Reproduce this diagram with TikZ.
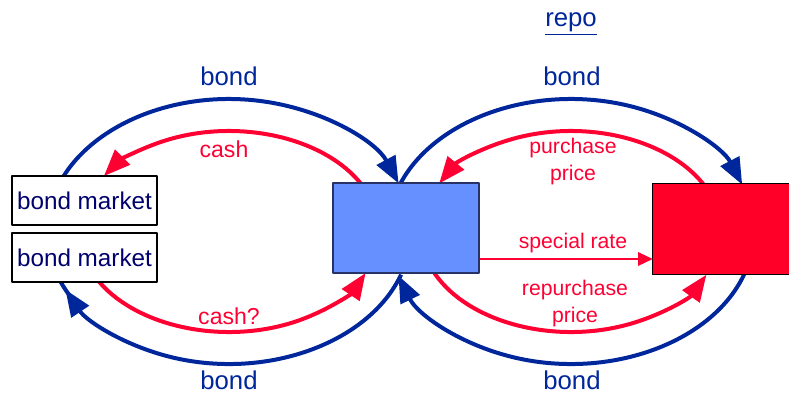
\documentclass[tikz,border=0pt]{standalone}
\usepackage{fontspec}
\setmainfont{Liberation Sans}
\usetikzlibrary{arrows.meta}

\definecolor{bondblue}{RGB}{0,38,155}
\definecolor{cashred}{RGB}{255,0,51}
\definecolor{dealerfill}{RGB}{102,143,255}
\definecolor{dealerline}{RGB}{40,50,100}
\definecolor{lenderfill}{RGB}{255,0,41}
\definecolor{marketnavy}{RGB}{0,0,110}

\tikzset{
  bondflow/.style={draw=bondblue, line width=3pt, -{Triangle[length=20pt,width=15.5pt]}},
  cashflow/.style={draw=cashred, line width=3pt, -{Triangle[length=20pt,width=15.5pt]}},
  rateflow/.style={draw=cashred, line width=1.7pt, -{Triangle[length=11pt,width=10pt]}},
  market/.style={draw=black, fill=white, line width=0.8pt, inner sep=0pt,
    minimum width=108.75pt, minimum height=36.75pt, text=marketnavy,
    font=\fontsize{18.2}{20}\selectfont},
  bondlabel/.style={text=bondblue, font=\fontsize{19.3}{22}\selectfont},
  cashlabel/.style={text=cashred, font=\fontsize{17.3}{20}\selectfont},
  pricelabel/.style={text=cashred, align=center, inner sep=0pt,
    font=\fontsize{15.9}{20.25}\selectfont}
}

\begin{document}
\begin{tikzpicture}[x=0.75pt, y=-0.75pt, line cap=butt, line join=round]

  \useasboundingbox (0,0) rectangle (789,394);

  % centres of the two loops
  \coordinate (lc) at (229,231.5);
  \coordinate (rc) at (571,231.5);

  % Left loop: bond market <-> dealer
  \draw[bondflow] (lc) ++(-168:182 and 132.5)
    arc[start angle=-168, end angle=-21.3, x radius=182, y radius=132.5];
  \draw[draw=bondblue, line width=3pt] (lc) ++(148:182 and 132.5)
    arc[start angle=148, end angle=162, x radius=182, y radius=132.5];
  \draw[bondflow] (lc) ++(19:182 and 132.5)
    arc[start angle=19, end angle=154, x radius=182, y radius=132.5];
  \draw[cashflow] (lc) ++(-25:150 and 100.5)
    arc[start angle=-25, end angle=-146.5, x radius=150, y radius=100.5];
  \draw[cashflow] (lc) ++(152:150 and 100.5)
    arc[start angle=152, end angle=24.4, x radius=150, y radius=100.5];

  % Right loop: repo between dealer and lender
  \draw[bondflow] (rc) ++(-160:183 and 132.5)
    arc[start angle=-160, end angle=-20.7, x radius=183, y radius=132.5];
  \draw[bondflow] (rc) ++(18:183 and 132.5)
    arc[start angle=18, end angle=160.5, x radius=183, y radius=132.5];
  \draw[cashflow] (rc) ++(-20:150 and 100.5)
    arc[start angle=-20, end angle=-151.5, x radius=150, y radius=100.5];
  \draw[cashflow] (rc) ++(158:150 and 100.5)
    arc[start angle=158, end angle=25.5, x radius=150, y radius=100.5];

  % Boxes
  \node[market] (mktup) at (84.5,200.5) {bond market};
  \node[market] (mktdown) at (84.5,257.5) {bond market};
  \node[draw=dealerline, fill=dealerfill, line width=0.8pt, minimum width=109.5pt,
    minimum height=67.5pt] (dealer) at (406,228) {};
  % lender box runs off the right edge
  \node[fill=lenderfill, inner sep=0pt, minimum width=112pt,
    minimum height=67.5pt] (lender) at (727.7,229) {};
  \draw[line width=0.8pt] (lender.north east) -- (lender.north west)
    -- (lender.south west) -- (lender.south east);

  % Special rate
  \draw[rateflow] ([yshift=-23.25pt]dealer.east) -- ([yshift=-23.25pt]dealer.east -| lender.west);

  % Labels
  \node[bondlabel] (repo) at (571,24) {\underline{repo}};
  \node[bondlabel] (bondlt) at (229,76) {bond};
  \node[bondlabel] (bondlb) at (229,380) {bond};
  \node[bondlabel] (bondrt) at (572,76) {bond};
  \node[bondlabel] (bondrb) at (572,380) {bond};
  \node[cashlabel] (cashtop) at (224,149) {cash};
  \node[cashlabel] (cashbot) at (229,316) {cash?};
  \node[pricelabel] (purchase) at (573,161.5) {purchase\\price};
  \node[pricelabel] (special) at (573,243) {special rate};
  \node[pricelabel] (repurchase) at (575,303.5) {repurchase\\price};

\end{tikzpicture}
\end{document}
